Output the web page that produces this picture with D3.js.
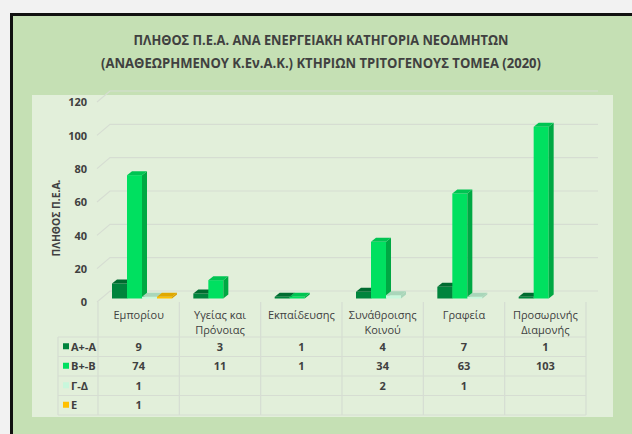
<!DOCTYPE html>
<html>
<head>
<meta charset="utf-8">
<script src="https://cdn.jsdelivr.net/npm/d3@7"></script>
<style>
  html, body { margin: 0; padding: 0; background: #f2f2f2; }
  svg { display: block; }
  text { font-family: "Open Sans", "Noto Sans", sans-serif; }
</style>
</head>
<body>
<svg id="chart" width="632" height="434"></svg>
<script>
// ---- Data ----
const titleLines = [
  "ΠΛΗΘΟΣ Π.Ε.Α. ΑΝΑ ΕΝΕΡΓΕΙΑΚΗ ΚΑΤΗΓΟΡΙΑ ΝΕΟΔΜΗΤΩΝ",
  "(ΑΝΑΘΕΩΡΗΜΕΝΟΥ Κ.Εν.Α.Κ.) ΚΤΗΡΙΩΝ ΤΡΙΤΟΓΕΝΟΥΣ ΤΟΜΕΑ (2020)"
];
const yAxisTitle = "ΠΛΗΘΟΣ Π.Ε.Α.";
const categories = ["Εμπορίου", "Υγείας και Πρόνοιας", "Εκπαίδευσης", "Συνάθροισης Κοινού", "Γραφεία", "Προσωρινής Διαμονής"];
const categoryLines = [["Εμπορίου"], ["Υγείας και", "Πρόνοιας"], ["Εκπαίδευσης"], ["Συνάθροισης", "Κοινού"], ["Γραφεία"], ["Προσωρινής", "Διαμονής"]];
const seriesNames = ["Α+-Α", "Β+-Β", "Γ-Δ", "Ε"];
const valuesAA = [9, 3, 1, 4, 7, 1];
const valuesBB = [74, 11, 1, 34, 63, 103];
const valuesGD = [1, null, null, 2, 1, null];
const valuesE  = [1, null, null, null, null, null];
const yTicks = [0, 20, 40, 60, 80, 100, 120];

const seriesValues = [valuesAA, valuesBB, valuesGD, valuesE];
const seriesColors = [
  { front: "#00843d", top: "#006b30", side: "#006b30", key: "#00843d" },
  { front: "#00e060", top: "#00c452", side: "#00a843", key: "#00e060" },
  { front: "#c8f7dc", top: "#a9d6ba", side: "#a9d6ba", key: "#c8f7dc" },
  { front: "#ffc000", top: "#e0a800", side: "#d9a000", key: "#ffc000" }
];

// ---- Layout ----
const svg = d3.select("#chart");
const textColor = "#404040";
const gridColor = "#d6ddd2";

// outer frame
svg.append("rect").attr("x", 11.5).attr("y", 14.5).attr("width", 660).attr("height", 460)
  .attr("fill", "#c5e0b4").attr("stroke", "#111").attr("stroke-width", 3);
// inner plot area
svg.append("rect").attr("x", 32).attr("y", 95).attr("width", 581).attr("height", 322)
  .attr("fill", "#e2efda");

// title
const titleLens = [375, 440];
titleLines.forEach((t, i) => {
  svg.append("text").attr("x", 321).attr("y", 45 + i * 23)
    .attr("text-anchor", "middle").attr("font-size", 14.5).attr("font-weight", "bold")
    .attr("fill", textColor).text(t)
    .attr("textLength", titleLens[i]).attr("lengthAdjust", "spacingAndGlyphs");
});

// scales
const x0 = 98, x1 = 586;
const x = d3.scaleBand().domain(categories).range([x0, x1]).padding(0);
const xs = d3.scaleBand().domain(seriesNames).range([14, 74]).padding(0);
const y = d3.scaleLinear().domain([0, 120]).range([302, 102]);

const depthX = 13, depthY = -11;   // floor depth
const planeX = 0, planeY = -3.5;   // bar front plane offset
const barDX = 5, barDY = -4;       // bar depth

// gridlines (3D)
const gridG = svg.append("g");
yTicks.forEach(t => {
  const yy = y(t);
  gridG.append("path")
    .attr("d", `M${x0 - 1},${yy} L${x0 - 1 + depthX},${yy + depthY} L${x1 + 12},${yy + depthY}`)
    .attr("fill", "none").attr("stroke", gridColor).attr("stroke-width", 1.2);
});

// y axis tick labels
const yAxis = d3.axisLeft(y).tickValues(yTicks).tickSize(0).tickPadding(0);
const yg = svg.append("g").attr("transform", "translate(87,0)").call(yAxis);
yg.select(".domain").remove();
yg.selectAll("text").attr("font-size", 11).attr("font-weight", "bold")
  .attr("fill", textColor).attr("font-family", "'Open Sans', 'Noto Sans', sans-serif")
  .attr("dy", "0.35em");

// y axis title
svg.append("text").attr("transform", "translate(56,218) rotate(-90)")
  .attr("text-anchor", "middle").attr("dy", "0.35em").attr("font-size", 10.5)
  .attr("font-weight", "bold").attr("fill", textColor).text(yAxisTitle)
  .attr("textLength", 77).attr("lengthAdjust", "spacingAndGlyphs");

// bars
const barsG = svg.append("g");
categories.forEach((c, ci) => {
  seriesNames.forEach((s, si) => {
    const v = seriesValues[si][ci];
    if (v === null || v === undefined) return;
    const bx = x(c) + xs(s) + planeX;
    const w = xs.bandwidth();
    const yb = y(0) + planeY;
    const yt = y(v) + planeY;
    const col = seriesColors[si];
    barsG.append("rect").attr("x", bx).attr("y", yt).attr("width", w).attr("height", Math.max(0, yb - yt))
      .attr("fill", col.front);
    barsG.append("path")
      .attr("d", `M${bx + w},${yt} L${bx + w + barDX},${yt + barDY} L${bx + w + barDX},${yb + barDY} L${bx + w},${yb} Z`)
      .attr("fill", col.side);
    barsG.append("path")
      .attr("d", `M${bx},${yt} L${bx + barDX},${yt + barDY} L${bx + w + barDX},${yt + barDY} L${bx + w},${yt} Z`)
      .attr("fill", col.top);
  });
});

// data table
const tableG = svg.append("g");
const rowYs = [337, 356.5, 376, 395.5, 415];
const legendX = 58;
const colEdges = categories.map(c => x(c)).concat([x1]);
colEdges.forEach(cx => {
  tableG.append("line").attr("x1", cx).attr("x2", cx).attr("y1", 302).attr("y2", 415)
    .attr("stroke", gridColor).attr("stroke-width", 1.2);
});
tableG.append("line").attr("x1", legendX).attr("x2", legendX).attr("y1", rowYs[0]).attr("y2", 415)
  .attr("stroke", gridColor).attr("stroke-width", 1.2);
rowYs.forEach(ry => {
  tableG.append("line").attr("x1", legendX).attr("x2", x1).attr("y1", ry).attr("y2", ry)
    .attr("stroke", gridColor).attr("stroke-width", 1.2);
});

// header labels
categories.forEach((c, ci) => {
  const cx = x(c) + x.bandwidth() / 2;
  categoryLines[ci].forEach((ln, li) => {
    tableG.append("text").attr("x", cx).attr("y", 315 + li * 15).attr("dy", "0.35em")
      .attr("text-anchor", "middle").attr("font-size", 11).attr("fill", textColor).text(ln);
  });
});

// rows
seriesNames.forEach((s, si) => {
  const cy = (rowYs[si] + rowYs[si + 1]) / 2;
  tableG.append("rect").attr("x", 63).attr("y", cy - 3.5).attr("width", 6).attr("height", 6)
    .attr("fill", seriesColors[si].key);
  tableG.append("text").attr("x", 71).attr("y", cy).attr("dy", "0.35em")
    .attr("font-size", 11).attr("font-weight", "bold").attr("fill", textColor).text(s);
  categories.forEach((c, ci) => {
    const v = seriesValues[si][ci];
    if (v === null || v === undefined) return;
    tableG.append("text").attr("x", x(c) + x.bandwidth() / 2).attr("y", cy).attr("dy", "0.35em")
      .attr("text-anchor", "middle").attr("font-size", 11).attr("font-weight", "bold")
      .attr("fill", textColor).text(v);
  });
});
</script>
</body>
</html>
